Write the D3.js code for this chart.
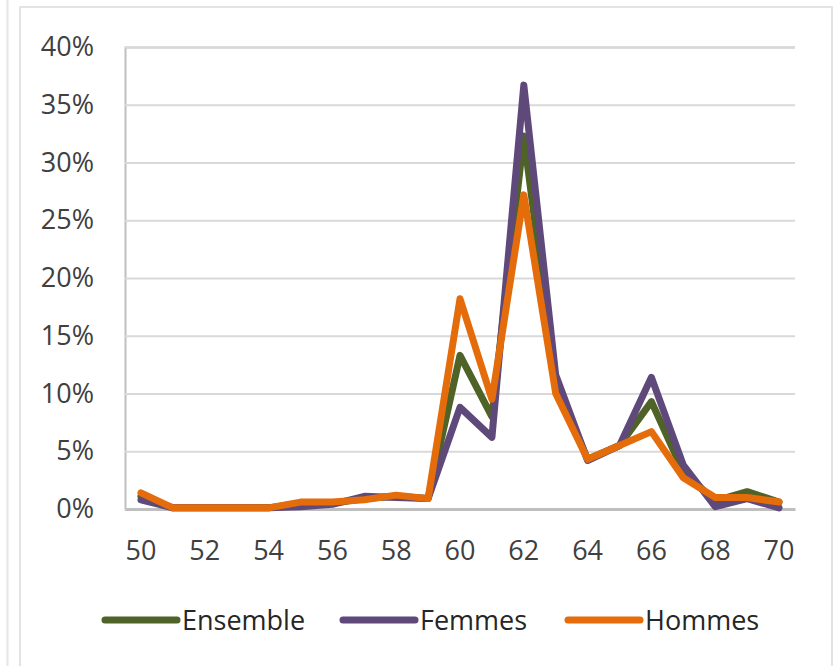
<!DOCTYPE html>
<html><head><meta charset="utf-8">
<script src="https://cdn.jsdelivr.net/npm/d3@7"></script>
<style>html,body{margin:0;padding:0;background:#fff;}svg{display:block;}</style>
</head><body>
<script>
const years = [50,51,52,53,54,55,56,57,58,59,60,61,62,63,64,65,66,67,68,69,70];
const ensemble = [1.1,0.1,0.1,0.1,0.1,0.5,0.5,0.9,1.1,0.9,13.3,8.0,32.3,10.8,4.3,5.5,9.3,3.2,0.7,1.5,0.6];
const femmes   = [0.8,0.1,0.1,0.1,0.1,0.2,0.4,1.1,1.0,0.9,8.8,6.2,36.7,11.6,4.2,5.5,11.4,3.8,0.2,0.9,0.1];
const hommes   = [1.4,0.1,0.1,0.1,0.1,0.6,0.6,0.8,1.2,0.9,18.2,9.5,27.2,10.0,4.3,5.5,6.7,2.7,1.0,1.0,0.6];
const seriesNames = ["Ensemble","Femmes","Hommes"];
const seriesColors = ["#4f6228","#5f497a","#e46c0a"];
const yTicks = [0,5,10,15,20,25,30,35,40];
const xTickLabels = [50,52,54,56,58,60,62,64,66,68,70];

const W = 834, H = 666;
const svg = d3.select("body").append("svg").attr("width", W).attr("height", H);
const font = "'Open Sans', sans-serif";
const fs = 27;

// frames
svg.append("line").attr("x1",7.5).attr("x2",7.5).attr("y1",0).attr("y2",H).attr("stroke","#e6e6e6").attr("stroke-width",2);
svg.append("rect").attr("x",20).attr("y",7).attr("width",812).attr("height",H).attr("fill","none").attr("stroke","#e3e3e3").attr("stroke-width",2);

const x = d3.scaleBand().domain(years).range([125, 795]);
const cx = d => x(d) + x.bandwidth()/2;
const y = d3.scaleLinear().domain([0, 40]).range([509, 47]);

// gridlines + y axis
const yAxis = d3.axisLeft(y).tickValues(yTicks).tickSize(-670).tickFormat(d => d + "%").tickPadding(31);
const gy = svg.append("g").attr("transform","translate(125,0)").call(yAxis);
gy.select(".domain").attr("stroke","#bfbfbf").attr("stroke-width",2);
gy.selectAll(".tick line").attr("stroke","#d9d9d9").attr("stroke-width",2);
gy.selectAll(".tick text").attr("font-family",font).attr("font-size",fs).attr("fill","#404040");

const xAxis = d3.axisBottom(x).tickValues(xTickLabels).tickSize(0).tickPadding(32);
const gx = svg.append("g").attr("transform","translate(0,509)").call(xAxis);
gx.select(".domain").attr("stroke","#bfbfbf").attr("stroke-width",3);
gx.selectAll(".tick text").attr("font-family",font).attr("font-size",fs).attr("fill","#404040");

const all = [ensemble, femmes, hommes];
const line = d3.line().x((d,i) => cx(years[i])).y(d => y(d)).curve(d3.curveLinear);
all.forEach((s, k) => {
  svg.append("path").datum(s).attr("d", line).attr("fill","none")
    .attr("stroke", seriesColors[k]).attr("stroke-width",7)
    .attr("stroke-linejoin","round").attr("stroke-linecap","round");
});

// legend
const legX = [105, 343, 568];
const lg = svg.append("g");
seriesNames.forEach((n, k) => {
  lg.append("line").attr("x1",legX[k]).attr("x2",legX[k]+72).attr("y1",620).attr("y2",620)
    .attr("stroke",seriesColors[k]).attr("stroke-width",7).attr("stroke-linecap","round");
  lg.append("text").attr("x",legX[k]+77).attr("y",620).attr("dy","0.36em")
    .attr("font-family",font).attr("font-size",fs).attr("fill","#262626").text(n);
});
</script>
</body></html>
